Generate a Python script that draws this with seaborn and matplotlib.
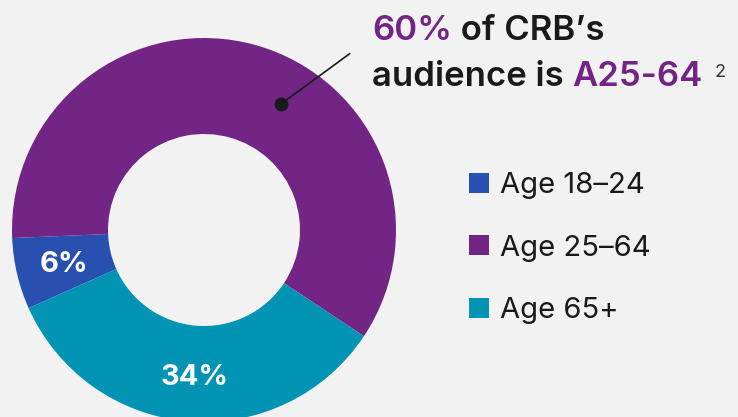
# =========================
# CRB audience by age - donut chart
# =========================

import matplotlib
matplotlib.use("Agg")
import matplotlib.pyplot as plt
import seaborn as sns

# =========================
# Data
# =========================

age_groups = ["Age 18–24", "Age 25–64", "Age 65+"]
shares = [6, 60, 34]
slice_labels = ["6%", "", "34%"]
headline_share = "60%"
headline_group = "A25-64"

# =========================
# Style
# =========================

sns.set_theme(style="white")
plt.rcParams["font.family"] = ["Inter", "DejaVu Sans"]

bg = "#f2f2f2"
palette = sns.color_palette(["#2850b0", "#722584", "#0093b4"])
dark = "#1a1a1a"

W, H = 738, 417
fig = plt.figure(figsize=(W / 100, H / 100), dpi=100, facecolor=bg)

# donut axes: centre (204, 230) px, outer radius 192 px
cx, cy, r = 204, 230, 192
ax = fig.add_axes([(cx - r) / W, (H - cy - r) / H, 2 * r / W, 2 * r / H])
ax.set_facecolor(bg)

wedges, _ = ax.pie(
    shares,
    colors=palette,
    startangle=204,
    counterclock=False,
    radius=1,
    wedgeprops=dict(width=0.5, edgecolor="none"),
)
ax.set_xlim(-1, 1)
ax.set_ylim(-1, 1)
ax.set_aspect("equal")
ax.axis("off")

# percentage labels inside the ring
ax.text(-0.73, -0.18, slice_labels[0], color="white", fontsize=21,
        fontweight="bold", ha="center", va="center")
ax.text(-0.05, -0.77, slice_labels[2], color="white", fontsize=21,
        fontweight="bold", ha="center", va="center")

# =========================
# Callout line + headline
# =========================

ax.annotate("", xy=((281 - cx) / r, (cy - 104) / r),
            xytext=((352 - cx) / r, (cy - 52) / r),
            arrowprops=dict(arrowstyle="-", color=dark, lw=1.2),
            annotation_clip=False)
ax.plot((281 - cx) / r, (cy - 104) / r, "o", color=dark, ms=9, clip_on=False)

renderer = fig.canvas.get_renderer()


def write_run(pieces, x, y, size, weight):
    # place coloured pieces of text one after another on a baseline
    for text, color in pieces:
        t = fig.text(x / W, 1 - y / H, text, color=color, fontsize=size,
                     fontweight=weight, va="baseline", ha="left")
        bb = t.get_window_extent(renderer)
        x += bb.width
    return x


write_run([(headline_share, palette[1]), (" of CRB’s", dark)], 372, 40, 25, "semibold")
end = write_run([("audience is ", dark), (headline_group, palette[1])], 372, 86, 25, "semibold")
fig.text((end + 12) / W, 1 - 77 / H, "2", color="#333333", fontsize=13,
         va="baseline", ha="left")

# =========================
# Legend
# =========================

fig.legend(
    wedges, age_groups,
    loc="upper left",
    bbox_to_anchor=(443 / W, 1 - 146 / H),
    frameon=False,
    fontsize=21,
    handlelength=0.69,
    handleheight=0.69,
    handletextpad=0.35,
    labelspacing=1.21,
    labelcolor=dark,
)

fig.savefig("out.png", dpi=100, facecolor=bg)
